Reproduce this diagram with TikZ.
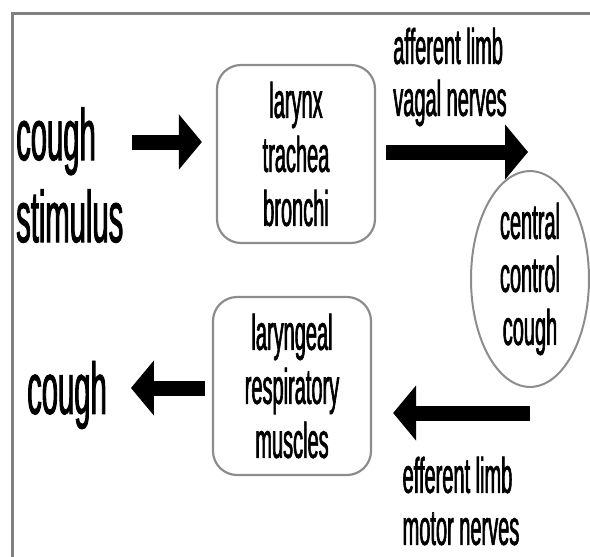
\documentclass[tikz,border=0pt]{standalone}
\usepackage{fontspec}
\newfontfamily\narrowsf[FakeStretch=0.40,FakeBold=1.2]{Liberation Sans}
\usetikzlibrary{arrows.meta,calc,positioning,shapes.geometric}
\definecolor{framegray}{gray}{0.5}
\definecolor{linegray}{gray}{0.55}

\begin{document}
\begin{tikzpicture}[x=1pt, y=-1pt,
    organ/.style={draw=linegray, line width=2.2pt, rounded corners=24pt, minimum width=158pt, minimum height=178pt, align=center, inner sep=0pt, font=\narrowsf\fontsize{50}{54}\selectfont},
    bigtext/.style={align=left, inner sep=0pt, font=\narrowsf\fontsize{73}{82}\selectfont},
    limbtext/.style={align=left, inner sep=0pt, font=\narrowsf\fontsize{50}{52}\selectfont},
    fat arrow/.style={line width=15pt, -{Triangle[width=54pt,length=23pt]}}]

  \useasboundingbox (0,0) rectangle (590,557);
  \clip (0,0) rectangle (590,557);
  % outer frame, only its top and left edges show
  \draw[framegray, line width=3pt] (12,600) -- (12,13) -- (650,13);

  % the stations of the reflex
  \node[bigtext, anchor=west] (stimulus) at (16,175) {cough\\stimulus};
  \node[organ] (airways) at (296,154) {larynx\\trachea\\bronchi};
  \node[draw=linegray, ellipse, line width=2pt, minimum width=118pt, minimum height=188pt, inner sep=0pt, align=center, font=\narrowsf\fontsize{50}{53}\selectfont] (centre) at (530,279) {central\\control\\cough};
  \node[organ] (muscles) at (292,386) {laryngeal\\respiratory\\muscles};
  \node[bigtext, anchor=west] (cough) at (27,395) {cough};

  % labels of the two limbs
  \node[limbtext] (afferent) at (450,77) {afferent limb\\vagal nerves};
  \node[limbtext] (efferent) at (461,501) {efferent limb\\motor nerves};

  % arrows
  \draw[fat arrow, shorten <=9pt, shorten >=14pt] ([yshift=12pt]airways.west -| stimulus.east) -- ([yshift=12pt]airways.west);
  \draw[fat arrow, shorten <=10pt, shorten >=2pt] ([yshift=2pt]airways.east) -- ([yshift=2pt]airways.east -| centre.center);
  \draw[fat arrow, shorten >=21pt] ([yshift=-27pt]muscles.east -| centre.south) -- ([yshift=-27pt]muscles.east);
  \draw[fat arrow, shorten <=7pt, shorten >=24pt] ([yshift=-2pt]muscles.west) -- ([yshift=-2pt]muscles.west -| cough.east);
\end{tikzpicture}
\end{document}
